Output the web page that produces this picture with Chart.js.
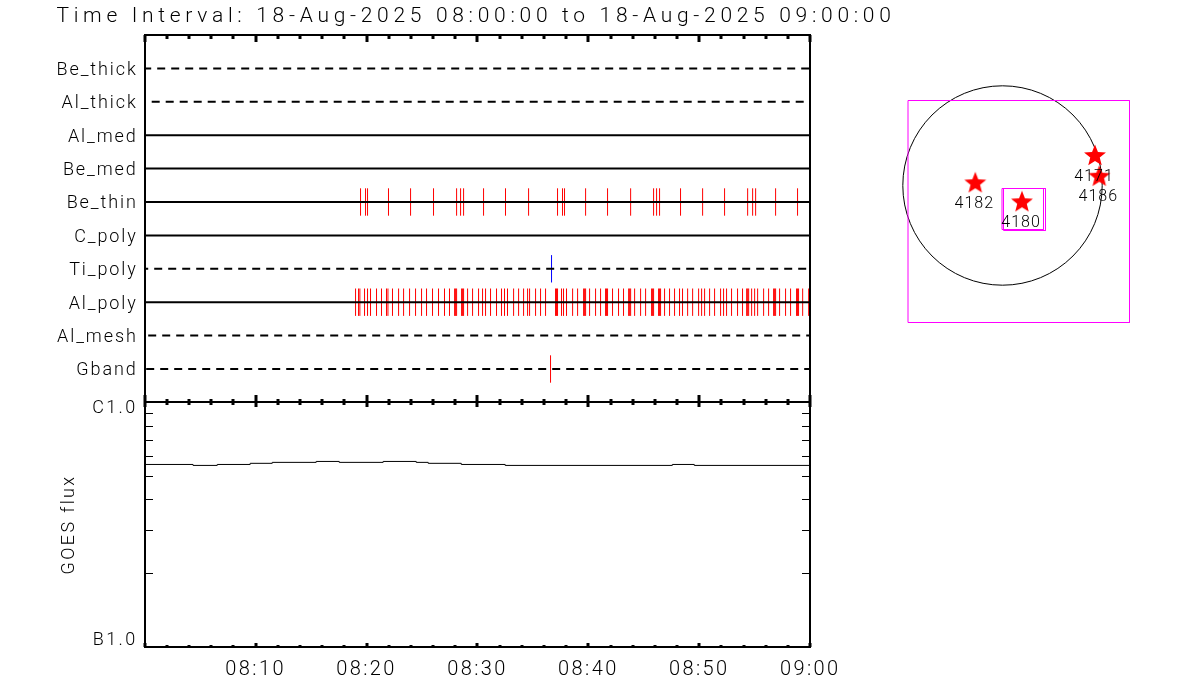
<!DOCTYPE html>
<html><head><meta charset="utf-8">
<script src="https://cdn.jsdelivr.net/npm/chart.js@4"></script>
<style>
html,body{margin:0;padding:0;background:#fff;width:1200px;height:700px;overflow:hidden}
canvas{position:absolute;left:0;top:0}
</style></head><body>
<div style="position:absolute;left:0;top:0;width:952px;height:410px"><canvas id="top"></canvas></div>
<div style="position:absolute;left:0;top:398px;width:952px;height:302px"><canvas id="goes"></canvas></div>
<div style="position:absolute;left:880px;top:60px;width:280px;height:280px"><canvas id="sun"></canvas></div>
<script>
const titleText = 'Time Interval: 18-Aug-2025 08:00:00 to 18-Aug-2025 09:00:00';
// bottom-to-top rows of the upper panel
const channels = ['Gband','Al_mesh','Al_poly','Ti_poly','C_poly','Be_thin','Be_med','Al_med','Al_thick','Be_thick'];
const dashedChannels = {Gband:12.5, Al_mesh:10.5, Ti_poly:4.5, Al_thick:7, Be_thick:1.5};
// event times, minutes after 08:00
const beThinEvents = [19.46,19.91,20.09,21.98,23.97,26.04,28.12,28.48,28.75,30.55,32.53,34.61,37.22,37.67,37.85,39.75,41.73,43.81,45.88,46.15,46.42,48.31,50.30,52.28,54.36,54.81,55.08,56.88,58.86];
const alPolyEvents = [19.01,19.28,19.40,19.82,20.09,20.36,20.90,21.35,21.80,21.93,22.34,22.89,23.34,23.88,24.42,24.96,25.41,25.95,26.49,27.03,27.48,27.94,28.03,28.12,28.57,28.66,28.75,29.11,29.56,30.10,30.46,30.73,31.18,31.72,32.17,32.44,32.71,33.26,33.71,34.16,34.52,34.70,35.24,35.69,36.14,37.04,37.13,37.22,37.58,37.76,38.03,38.58,39.03,39.57,39.66,39.75,40.11,40.65,41.10,41.55,41.64,41.73,42.18,42.72,43.17,43.63,43.72,43.81,44.17,44.71,45.16,45.70,45.79,45.88,46.33,46.42,46.51,46.87,47.32,47.77,48.22,48.49,48.95,49.40,49.94,50.21,50.48,50.93,51.38,51.92,52.19,52.46,52.91,53.45,53.90,54.27,54.36,54.45,54.72,54.99,55.26,55.80,56.25,56.70,56.79,56.88,57.24,57.78,58.23,58.77,58.86,58.95,59.32,59.86,59.95];
const tiPolyEvents = [36.68];
const gbandEvents = [36.59];
// GOES flux, W/m2
const goesMinutes = [0,4.36,6.54,9.51,11.5,15.46,17.54,21.5,24.48,25.56,28.54,32.5,47.57,49.55,60];
const goesFlux = [5.56e-7,5.51e-7,5.56e-7,5.62e-7,5.67e-7,5.72e-7,5.67e-7,5.72e-7,5.67e-7,5.62e-7,5.56e-7,5.51e-7,5.56e-7,5.51e-7,5.51e-7];
const goesMinorTicks = [2e-7,3e-7,4e-7,5e-7,6e-7,7e-7,8e-7,9e-7];
// solar map
const limbRadiusPx = 99.7;
const regionNames = ['4182','4180','4171','4186'];
const regionX = [-272,195,925,968];
const regionY = [22,-168,295,88];
const fovX = [-945,1270,1270,-945,-945];
const fovY = [850,850,-1370,-1370,850];
const box1X = [-5,410,410,-5,-5];
const box1Y = [-30,-30,-440,-440,-30];
const box2X = [10,430,430,10,10];
const box2Y = [-30,-30,-450,-450,-30];

const FONT = 'Roboto';
const BLACK = '#000';
function pairs(xs,ys){return xs.map((x,i)=>({x,y:ys[i]}));}
function eventSegments(times,row){
  const out=[];
  times.forEach(t=>{out.push({x:t,y:row-0.41},{x:t,y:row+0.41},{x:t,y:NaN});});
  return out;
}
function line(label,data,color,width,extra){
  return Object.assign({label,data,borderColor:color,backgroundColor:color,borderWidth:width,showLine:true,pointRadius:0,pointHoverRadius:0,fill:false,tension:0,spanGaps:false},extra||{});
}
function timeTicks(chart,yBase,dir,minorLen,majorLen){
  const ctx=chart.ctx,xs=chart.scales.x;
  ctx.save();ctx.strokeStyle=BLACK;ctx.lineWidth=3;
  for(let m=0;m<=60;m+=2){
    const px=Math.round(xs.getPixelForValue(m));
    const len=(m%10===0)?majorLen:minorLen;
    ctx.beginPath();ctx.moveTo(px,yBase);ctx.lineTo(px,yBase+dir*len);ctx.stroke();
  }
  ctx.restore();
}
function frame(ctx,l,t,r,b){
  ctx.save();ctx.strokeStyle=BLACK;ctx.lineWidth=2;ctx.strokeRect(l,t,r-l,b-t);ctx.restore();
}
function noPad(s){s.paddingTop=0;s.paddingBottom=0;s.paddingLeft=0;s.paddingRight=0;}
const spacing=(s,titleS)=>({id:'spacing',beforeDraw(chart){
  chart.ctx.letterSpacing=s+'px';
  const tb=chart.titleBlock;
  if(tb&&!tb._wrapped&&titleS!==undefined){
    const orig=tb.draw;
    tb.draw=function(){
      tb.left=0;tb.right=chart.width;tb.width=chart.width;
      chart.ctx.save();chart.ctx.letterSpacing=titleS+'px';orig.call(tb);chart.ctx.restore();
    };
    tb._wrapped=true;
  }
}});

// ---- upper panel ----
const rowSets=channels.map((name,i)=>{
  const dashed=name in dashedChannels;
  return line(name,[{x:0,y:i},{x:60,y:i}],BLACK,2,dashed?{borderDash:[8,6],borderDashOffset:dashedChannels[name]}:{});
});
new Chart(document.getElementById('top'),{
  type:'scatter',
  data:{datasets:[...rowSets,
    line('Be_thin events',eventSegments(beThinEvents,5),'#ff0000',1),
    line('Al_poly events',eventSegments(alPolyEvents,2),'#ff0000',1),
    line('Ti_poly events',eventSegments(tiPolyEvents,3),'#0000ff',1),
    line('Gband events',eventSegments(gbandEvents,0),'#ff0000',1)]},
  options:{responsive:true,maintainAspectRatio:false,animation:false,events:[],
    layout:{autoPadding:false,padding:{left:0,right:141.8,top:0,bottom:7.6}},
    plugins:{legend:{display:false},tooltip:{enabled:false},
      title:{display:true,text:titleText,color:BLACK,align:'center',
        font:{family:FONT,size:21,weight:'300',lineHeight:1.2},padding:{top:4,bottom:5.8}}},
    scales:{
      x:{type:'linear',display:false,min:0,max:60},
      y:{type:'linear',min:-1,max:10,
        afterFit(s){s.width=144.7;noPad(s);},
        grid:{display:false,drawTicks:false},border:{display:false},
        ticks:{stepSize:1,autoSkip:false,padding:7,color:BLACK,font:{family:FONT,size:18,weight:'300',lineHeight:0.2},
          callback:v=>channels[v]?['',channels[v]]:''}}
    }},
  plugins:[spacing(1.9,4.7),{id:'axes',afterDraw(chart){
    const a=chart.chartArea,ctx=chart.ctx;
    frame(ctx,Math.round(a.left),35,Math.round(a.right),402);
    timeTicks(chart,35,1,4,7);
    timeTicks(chart,402,-1,3,7);
  }}]
});

// ---- GOES panel ----
new Chart(document.getElementById('goes'),{
  type:'scatter',
  data:{datasets:[line('GOES flux',pairs(goesMinutes,goesFlux),BLACK,1,{stepped:true})]},
  options:{responsive:true,maintainAspectRatio:false,animation:false,events:[],
    layout:{autoPadding:false,padding:{left:0,right:141.8,top:4,bottom:0}},
    plugins:{legend:{display:false},tooltip:{enabled:false}},
    scales:{
      x:{type:'linear',min:0,max:60,position:'bottom',
        afterFit(s){s.height=53;noPad(s);},
        grid:{display:false,drawTicks:false},border:{display:false},
        ticks:{stepSize:10,autoSkip:false,maxRotation:0,padding:11,color:BLACK,font:{family:FONT,size:20,weight:'300'},
          callback:v=>v===0?'':(v===60?'09:00':'08:'+String(v).padStart(2,'0'))}},
      y:{type:'logarithmic',min:1e-7,max:1e-6,
        afterFit(s){s.width=144.7;noPad(s);},
        grid:{display:false,drawTicks:false},border:{display:false},
        title:{display:true,text:'GOES flux',color:BLACK,font:{family:FONT,size:18,weight:'300'},padding:{top:59,bottom:0}},
        ticks:{autoSkip:false,padding:7,color:BLACK,font:{family:FONT,size:18,weight:'300',lineHeight:0.75},
          callback:v=>v===1e-7?['B1.0','']:(Math.abs(v-1e-6)<1e-12?['','C1.0']:'')}}
    }},
  plugins:[spacing(2.4),{id:'axes',afterDraw(chart){
    const a=chart.chartArea,ctx=chart.ctx;
    const l=Math.round(a.left),r=Math.round(a.right);
    frame(ctx,l,4,r,249);
    timeTicks(chart,4,1,3,5);
    timeTicks(chart,249,-1,2,4);
    ctx.save();ctx.strokeStyle=BLACK;ctx.lineWidth=1;
    goesMinorTicks.forEach(v=>{
      const py=Math.round(chart.scales.y.getPixelForValue(v))+0.5;
      ctx.beginPath();ctx.moveTo(l,py);ctx.lineTo(l+8,py);ctx.moveTo(r,py);ctx.lineTo(r-8,py);ctx.stroke();
    });
    ctx.restore();
  }}]
});

// ---- solar map ----
function starImage(){
  const c=document.createElement('canvas');c.width=24;c.height=24;
  const g=c.getContext('2d');g.fillStyle='#ff0000';g.beginPath();
  for(let i=0;i<10;i++){
    const r=i%2?5:11.5,th=-Math.PI/2+i*Math.PI/5;
    const x=12+r*Math.cos(th),y=12+r*Math.sin(th);
    i?g.lineTo(x,y):g.moveTo(x,y);
  }
  g.closePath();g.fill();return c;
}
new Chart(document.getElementById('sun'),{
  type:'scatter',
  data:{datasets:[
    {label:'Regions',data:pairs(regionX,regionY),pointStyle:starImage(),pointRadius:12,showLine:false},
    line('FOV',pairs(fovX,fovY),'#ff00ff',1),
    line('Box 1',pairs(box1X,box1Y),'#ff00ff',1),
    line('Box 2',pairs(box2X,box2Y),'#ff00ff',1),
    {label:'Limb',data:[{x:0,y:0}],showLine:false,pointStyle:'circle',pointRadius:limbRadiusPx,pointBackgroundColor:'rgba(0,0,0,0)',pointBorderColor:BLACK,pointBorderWidth:1}
  ]},
  options:{responsive:true,maintainAspectRatio:false,animation:false,events:[],
    layout:{autoPadding:false,padding:0},
    plugins:{legend:{display:false},tooltip:{enabled:false}},
    scales:{x:{type:'linear',display:false,min:-1225,max:1575},y:{type:'linear',display:false,min:-1545,max:1255}}},
  plugins:[{id:'labels',afterDraw(chart){
    const ctx=chart.ctx;ctx.save();ctx.letterSpacing='1px';
    ctx.fillStyle=BLACK;ctx.font='300 16px '+FONT;ctx.textAlign='center';ctx.textBaseline='middle';
    regionNames.forEach((n,i)=>{
      ctx.fillText(n,chart.scales.x.getPixelForValue(regionX[i])-1,chart.scales.y.getPixelForValue(regionY[i])+20.5);
    });
    ctx.restore();
  }}]
});
</script>
</body></html>
